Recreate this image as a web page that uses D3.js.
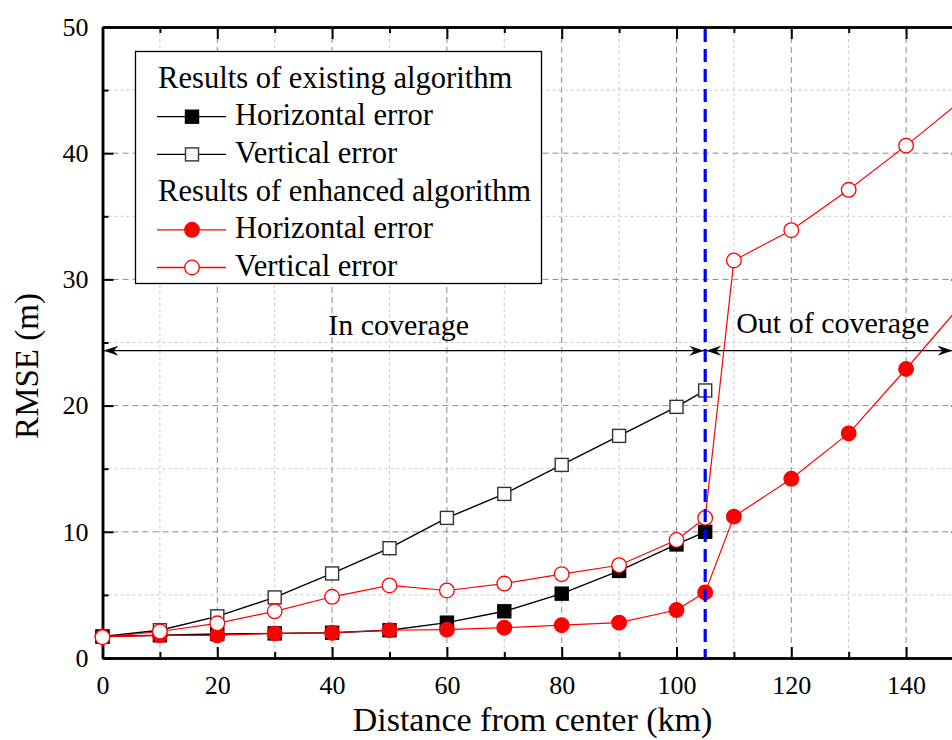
<!DOCTYPE html>
<html>
<head>
<meta charset="utf-8">
<script src="https://cdn.jsdelivr.net/npm/d3@7"></script>
<style>
body { margin: 0; background: #fff; }
svg { display: block; font-family: "Liberation Serif", "Times New Roman", serif; }
</style>
</head>
<body>
<svg width="952" height="740"></svg>
<script>
// values
var distExisting = [0, 10, 20, 30, 40, 50, 60, 70, 80, 90, 100, 105];
var existingHoriz = [1.7, 1.8, 1.9, 1.95, 2.0, 2.2, 2.8, 3.7, 5.1, 6.9, 9.0, 10.0];
var existingVert = [1.7, 2.2, 3.3, 4.8, 6.7, 8.7, 11.1, 13.0, 15.3, 17.6, 19.9, 21.2];

var distEnhanced = [0, 10, 20, 30, 40, 50, 60, 70, 80, 90, 100, 105, 110, 120, 130, 140, 150];
var enhancedHoriz = [1.7, 1.8, 1.8, 1.95, 2.0, 2.2, 2.25, 2.4, 2.6, 2.8, 3.8, 5.2, 11.2, 14.2, 17.8, 22.9, 28.2];
var enhancedVert = [1.65, 2.1, 2.75, 3.7, 4.85, 5.75, 5.35, 5.9, 6.65, 7.35, 9.35, 11.1, 31.5, 33.9, 37.1, 40.6, 44.3];

var xMajor = [0, 20, 40, 60, 80, 100, 120, 140];
var xMinor = [10, 30, 50, 70, 90, 110, 130, 150];
var yMajor = [0, 10, 20, 30, 40, 50];
var yMinor = [5, 15, 25, 35, 45];

var boundary = 105;
var arrowLevel = 24.35;

var legendGroups = [
  { title: 'Results of existing algorithm', items: [
    { label: 'Horizontal error', color: '#000', shape: 'square', fill: '#000' },
    { label: 'Vertical error', color: '#000', shape: 'square', fill: '#fff' } ] },
  { title: 'Results of enhanced algorithm', items: [
    { label: 'Horizontal error', color: 'red', shape: 'circle', fill: 'red' },
    { label: 'Vertical error', color: 'red', shape: 'circle', fill: '#fff' } ] }
];

function main() {
  var svg = d3.select('svg');
  var left = 102.5, right = 963.5, top = 27, bottom = 658;

  var x = d3.scaleLinear().domain([0, 150]).range([left, right]);
  var y = d3.scaleLinear().domain([0, 50]).range([bottom, top]);

  svg.append('defs').append('marker')
    .attr('id', 'arrowhead')
    .attr('viewBox', '0 -6 15 12')
    .attr('refX', 15).attr('refY', 0)
    .attr('markerWidth', 15).attr('markerHeight', 12)
    .attr('markerUnits', 'userSpaceOnUse')
    .attr('orient', 'auto-start-reverse')
    .append('path')
    .attr('d', 'M0,-5L15,0L0,5L5,0Z')
    .attr('fill', '#000');

  // grid
  var grid = svg.append('g');
  grid.selectAll('.gx-minor').data(xMinor).enter().append('line')
    .attr('x1', d => x(d)).attr('x2', d => x(d)).attr('y1', top).attr('y2', bottom)
    .attr('stroke', '#c8c8c8').attr('stroke-width', 1).attr('stroke-dasharray', '3,3');
  grid.selectAll('.gy-minor').data(yMinor).enter().append('line')
    .attr('y1', d => y(d)).attr('y2', d => y(d)).attr('x1', left).attr('x2', right)
    .attr('stroke', '#c8c8c8').attr('stroke-width', 1).attr('stroke-dasharray', '3,3');
  grid.selectAll('.gx-major').data(xMajor.slice(1)).enter().append('line')
    .attr('x1', d => x(d)).attr('x2', d => x(d)).attr('y1', top).attr('y2', bottom)
    .attr('stroke', '#8a8a8a').attr('stroke-width', 1).attr('stroke-dasharray', '6,4');
  grid.selectAll('.gy-major').data(yMajor.slice(1, -1)).enter().append('line')
    .attr('y1', d => y(d)).attr('y2', d => y(d)).attr('x1', left).attr('x2', right)
    .attr('stroke', '#8a8a8a').attr('stroke-width', 1).attr('stroke-dasharray', '6,4');

  // axes
  var gxb = svg.append('g').attr('transform', 'translate(0,' + bottom + ')')
    .call(d3.axisBottom(x).tickValues(xMajor).tickSizeInner(-11).tickSizeOuter(0).tickPadding(17.5));
  gxb.selectAll('text').attr('font-size', 26).attr('font-family', 'Liberation Serif').attr('fill', '#000');
  var gxb2 = svg.append('g').attr('transform', 'translate(0,' + bottom + ')')
    .call(d3.axisBottom(x).tickValues(xMinor).tickSizeInner(-6).tickSizeOuter(0).tickFormat(''));

  var gxt = svg.append('g').attr('transform', 'translate(0,' + top + ')')
    .call(d3.axisTop(x).tickValues(xMajor).tickSizeInner(-12).tickSizeOuter(0).tickFormat(''));
  var gxt2 = svg.append('g').attr('transform', 'translate(0,' + top + ')')
    .call(d3.axisTop(x).tickValues(xMinor).tickSizeInner(-6).tickSizeOuter(0).tickFormat(''));

  var gyl = svg.append('g').attr('transform', 'translate(' + left + ',0)')
    .call(d3.axisLeft(y).tickValues(yMajor).tickSizeInner(-11).tickSizeOuter(0).tickPadding(14));
  gyl.selectAll('text').attr('font-size', 26).attr('font-family', 'Liberation Serif').attr('fill', '#000');
  var gyl2 = svg.append('g').attr('transform', 'translate(' + left + ',0)')
    .call(d3.axisLeft(y).tickValues(yMinor).tickSizeInner(-6).tickSizeOuter(0).tickFormat(''));

  var gyr = svg.append('g').attr('transform', 'translate(' + right + ',0)')
    .call(d3.axisRight(y).tickValues(yMajor).tickSizeInner(-12).tickSizeOuter(0).tickFormat(''));
  var gyr2 = svg.append('g').attr('transform', 'translate(' + right + ',0)')
    .call(d3.axisRight(y).tickValues(yMinor).tickSizeInner(-6).tickSizeOuter(0).tickFormat(''));

  [gxb, gxb2, gxt, gxt2, gyl, gyl2, gyr, gyr2].forEach(function (g) {
    g.select('.domain').attr('stroke', '#000').attr('stroke-width', 2.5);
    g.selectAll('.tick line').attr('stroke', '#000').attr('stroke-width', 2);
  });

  // axis titles
  svg.append('text')
    .attr('x', 532.5).attr('y', 731)
    .attr('text-anchor', 'middle')
    .attr('font-size', 34)
    .text('Distance from center (km)');
  svg.append('text')
    .attr('transform', 'translate(38,366) rotate(-90)')
    .attr('text-anchor', 'middle')
    .attr('font-size', 33)
    .text('RMSE (m)');

  // coverage arrows
  svg.append('line')
    .attr('x1', x(0) + 1).attr('x2', x(boundary) - 1)
    .attr('y1', y(arrowLevel)).attr('y2', y(arrowLevel))
    .attr('stroke', '#000').attr('stroke-width', 1.3)
    .attr('marker-start', 'url(#arrowhead)').attr('marker-end', 'url(#arrowhead)');
  svg.append('line')
    .attr('x1', x(boundary) + 1).attr('x2', x(150) - 11)
    .attr('y1', y(arrowLevel)).attr('y2', y(arrowLevel))
    .attr('stroke', '#000').attr('stroke-width', 1.3)
    .attr('marker-start', 'url(#arrowhead)').attr('marker-end', 'url(#arrowhead)');
  svg.append('text')
    .attr('x', x(51.6)).attr('y', y(arrowLevel) - 16)
    .attr('text-anchor', 'middle').attr('font-size', 30)
    .text('In coverage');
  svg.append('text')
    .attr('x', x(110.4)).attr('y', y(arrowLevel) - 18)
    .attr('font-size', 30)
    .text('Out of coverage');

  // series
  var line = d3.line().x(d => x(d[0])).y(d => y(d[1]));
  var series = [
    { dist: distExisting, vals: existingVert, color: '#000', shape: 'square', fill: '#fff', width: 1.4 },
    { dist: distExisting, vals: existingHoriz, color: '#000', shape: 'square', fill: '#000', width: 1.4 },
    { dist: distEnhanced, vals: enhancedHoriz, color: 'red', shape: 'circle', fill: 'red', width: 1.2 },
    { dist: distEnhanced, vals: enhancedVert, color: 'red', shape: 'circle', fill: '#fff', width: 1.2 }
  ];

  function drawMarkers(g, pts, s, px, py) {
    if (s.shape === 'square') {
      g.selectAll(null).data(pts).enter().append('rect')
        .attr('x', d => px(d) - 6.5).attr('y', d => py(d) - 6.5)
        .attr('width', 13).attr('height', 13)
        .attr('fill', s.fill)
        .attr('stroke', s.fill === '#000' ? '#000' : '#333')
        .attr('stroke-width', 1.4);
    } else {
      g.selectAll(null).data(pts).enter().append('circle')
        .attr('cx', px).attr('cy', py)
        .attr('r', 7.3)
        .attr('fill', s.fill)
        .attr('stroke', 'red')
        .attr('stroke-width', 1.3);
    }
  }

  var plot = svg.append('g');
  series.forEach(function (s) {
    var pts = s.dist.map((d, i) => [d, s.vals[i]]);
    plot.append('path')
      .datum(pts)
      .attr('d', line)
      .attr('fill', 'none')
      .attr('stroke', s.color)
      .attr('stroke-width', s.width);
    drawMarkers(plot, pts, s, d => x(d[0]), d => y(d[1]));
  });

  // boundary line
  svg.append('line')
    .attr('x1', x(boundary)).attr('x2', x(boundary))
    .attr('y1', top + 2).attr('y2', bottom)
    .attr('stroke', '#0000ff').attr('stroke-width', 3.2)
    .attr('stroke-dasharray', '13,7');

  // legend
  var lg = svg.append('g');
  lg.append('rect')
    .attr('x', 135.5).attr('y', 51.5).attr('width', 406).attr('height', 232)
    .attr('fill', '#fff').attr('stroke', '#000').attr('stroke-width', 1.3);
  var row = 0;
  var rowY = r => 79 + r * 37.7;
  legendGroups.forEach(function (grp) {
    lg.append('text')
      .attr('x', 158).attr('y', rowY(row) + 8.5)
      .attr('font-size', 30.6)
      .text(grp.title);
    row++;
    grp.items.forEach(function (it) {
      var cy = rowY(row);
      lg.append('line')
        .attr('x1', 157).attr('x2', 226).attr('y1', cy).attr('y2', cy)
        .attr('stroke', it.color).attr('stroke-width', 1.3);
      drawMarkers(lg, [cy], it, () => 192, d => d);
      lg.append('text')
        .attr('x', 235).attr('y', cy + 8.5)
        .attr('font-size', 30.6)
        .text(it.label);
      row++;
    });
  });
}
main();
</script>
</body>
</html>
